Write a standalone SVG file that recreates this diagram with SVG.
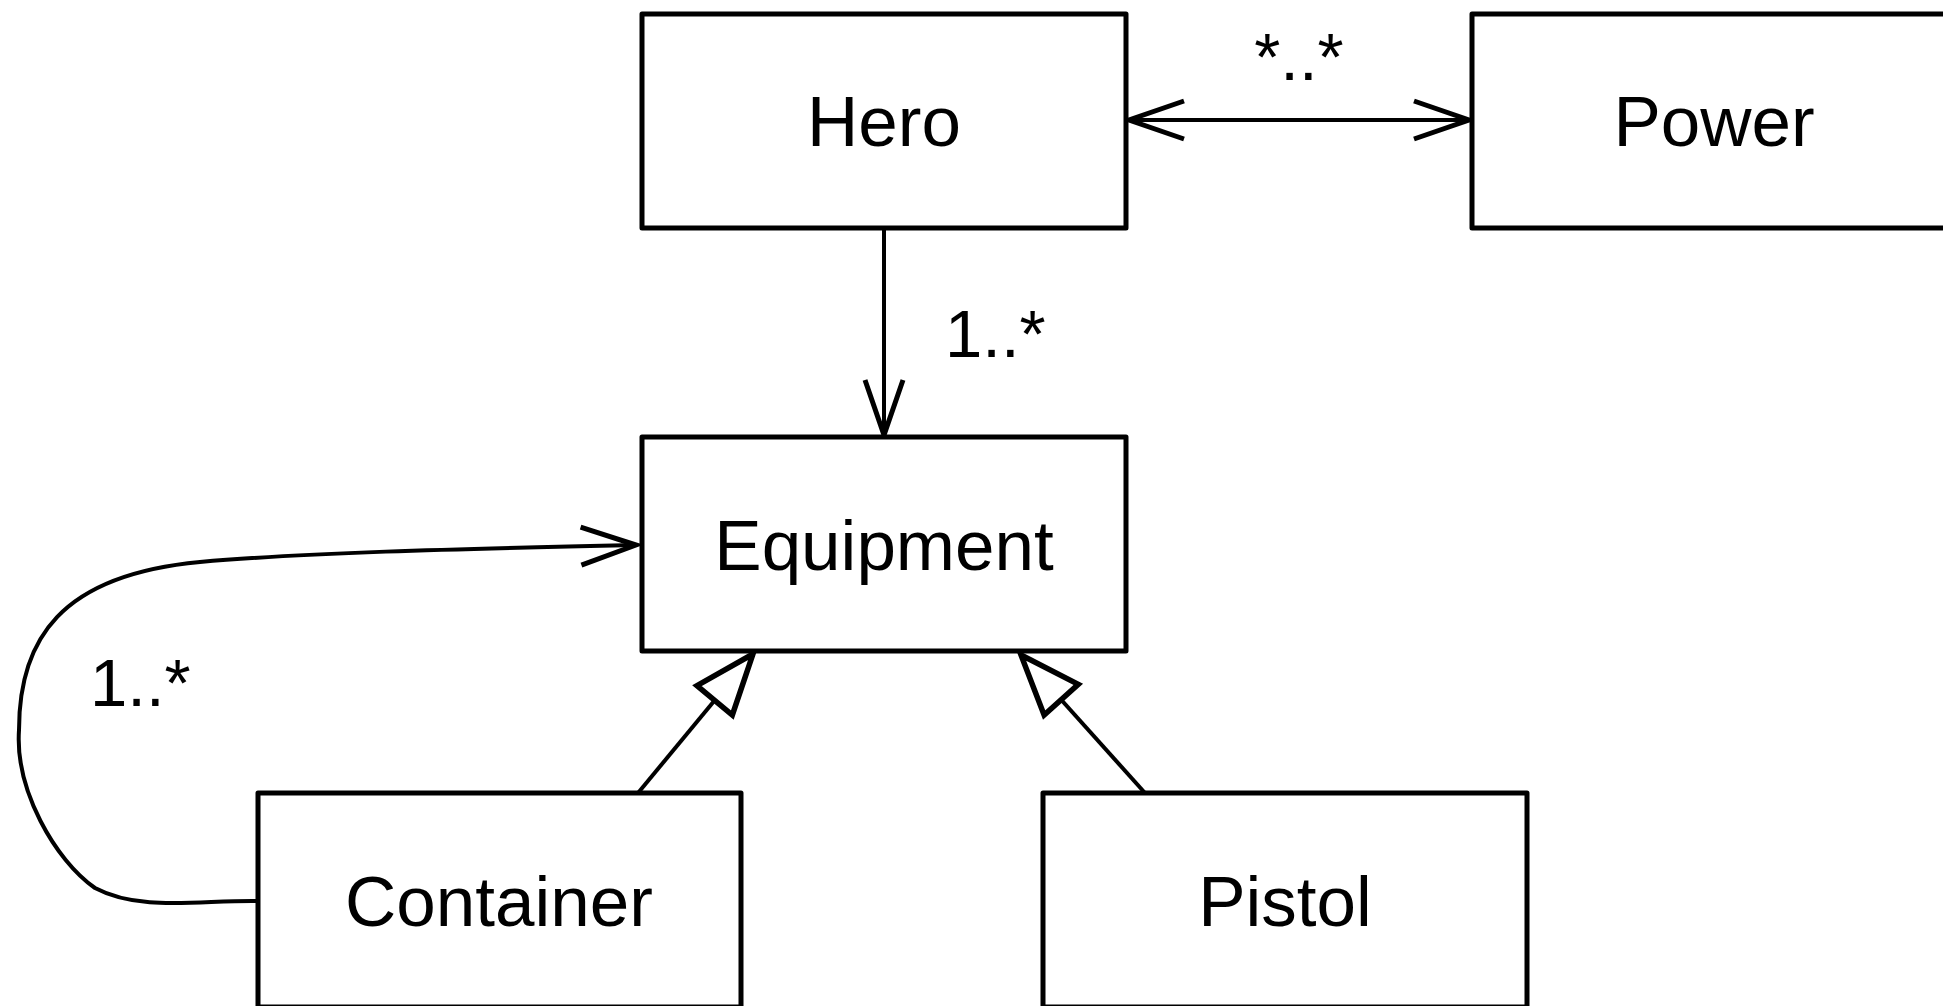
<svg xmlns="http://www.w3.org/2000/svg" width="1943" height="1006" viewBox="0 0 1943 1006">
<style>
.box{fill:#fff;stroke:#000;stroke-width:5;stroke-linejoin:round}
.lbl{font-family:"Liberation Sans",Arial,Helvetica,sans-serif;font-size:71px;fill:#000;text-anchor:middle}
.mult{font-family:"Liberation Sans",Arial,Helvetica,sans-serif;font-size:67px;fill:#000}
.edge{fill:none;stroke:#000;stroke-width:4}
</style>
<defs>
<marker id="open" markerUnits="userSpaceOnUse" markerWidth="80" markerHeight="60" viewBox="-60 -30 70 60" refX="0" refY="0" orient="auto-start-reverse">
<path d="M-55,-19 L0,0 L-55,19" fill="none" stroke="#000" stroke-width="5"/>
</marker>
<marker id="tri" markerUnits="userSpaceOnUse" markerWidth="80" markerHeight="70" viewBox="-62 -32 70 64" refX="0" refY="0" orient="auto">
<path d="M0,0 L-55,-21 L-55,21 Z" fill="#fff" stroke="#000" stroke-width="5" stroke-linejoin="miter"/>
</marker>
</defs>
<rect width="1943" height="1006" fill="#fff"/>
<g id="connectors">
<path class="edge" d="M1129,120 L1469,120" marker-start="url(#open)" marker-end="url(#open)"/>
<path class="edge" d="M884,228 L884,435" marker-end="url(#open)"/>
<path class="edge" d="M258,901 C200,900 140,912 95,888 C55,860 15,790 19,730 C19,640 60,575 200,562 C300,553 450,549 636,545" marker-end="url(#open)"/>
<path class="edge" d="M638,793 L753,654" marker-end="url(#tri)"/>
<path class="edge" d="M1145,793 L1021,655" marker-end="url(#tri)"/>
</g>
<g id="Hero"><rect class="box" x="642" y="14" width="484" height="214"/><text class="lbl" x="884" y="146">Hero</text></g>
<g id="Power"><rect class="box" x="1472" y="14" width="484" height="214"/><text class="lbl" x="1714" y="146">Power</text></g>
<g id="Equipment"><rect class="box" x="642" y="437" width="484" height="214"/><text class="lbl" x="884" y="570">Equipment</text></g>
<g id="Container"><rect class="box" x="258" y="793" width="483" height="214"/><text class="lbl" x="499" y="926">Container</text></g>
<g id="Pistol"><rect class="box" x="1043" y="793" width="484" height="214"/><text class="lbl" x="1285" y="926">Pistol</text></g>
<g id="labels">
<text class="mult" x="1299" y="80" text-anchor="middle">*..*</text>
<text class="mult" x="945" y="357">1..*</text>
<text class="mult" x="90" y="706">1..*</text>
</g>
</svg>
